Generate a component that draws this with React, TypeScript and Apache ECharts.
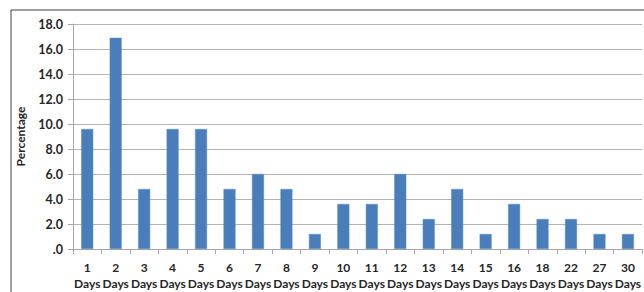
import React, { useEffect, useRef } from "react";
import * as echarts from "echarts";

const categories = ["1", "2", "3", "4", "5", "6", "7", "8", "9", "10", "11", "12", "13", "14", "15", "16", "18", "22", "27", "30"];
const values = [9.6, 16.9, 4.8, 9.6, 9.6, 4.8, 6.0, 4.8, 1.2, 3.6, 3.6, 6.0, 2.4, 4.8, 1.2, 3.6, 2.4, 2.4, 1.2, 1.2];
const yTicks = { min: 0, max: 18, interval: 2 };
const unitLabel = "Days";
const yName = "Percentage";

export default function App() {
  const ref = useRef<HTMLDivElement>(null);
  useEffect(() => {
    if (!ref.current) return;
    const chart = echarts.init(ref.current, undefined, { renderer: "svg" });
    const font = "Lato, 'Open Sans', sans-serif";
    chart.setOption({
      animation: false,
      backgroundColor: "#ffffff",
      grid: { left: 73, top: 24, width: 574, height: 225, containLabel: false },
      graphic: [
        {
          type: "rect",
          shape: { x: 11, y: 10, width: 700, height: 320 },
          style: { fill: "none", stroke: "#404040", lineWidth: 1 },
          silent: true,
        },
      ],
      xAxis: {
        type: "category",
        data: categories,
        axisLine: { show: true, lineStyle: { color: "#a6a6a6", width: 1 } },
        axisTick: { show: true, length: 5, lineStyle: { color: "#a6a6a6" } },
        axisLabel: {
          margin: 10,
          color: "#262626",
          fontFamily: font,
          fontWeight: "bold",
          fontSize: 12,
          lineHeight: 16,
          interval: 0,
          formatter: (v: string) => `${v}\n${unitLabel}`,
        },
      },
      yAxis: {
        type: "value",
        min: yTicks.min,
        max: yTicks.max,
        interval: yTicks.interval,
        name: yName,
        nameLocation: "middle",
        nameGap: 47,
        nameTextStyle: { color: "#262626", fontFamily: font, fontWeight: "bold", fontSize: 12 },
        axisLine: { show: true, lineStyle: { color: "#a6a6a6", width: 1 } },
        axisTick: { show: true, length: 5, lineStyle: { color: "#a6a6a6" } },
        axisLabel: {
          margin: 10,
          color: "#262626",
          fontFamily: font,
          fontWeight: "bold",
          fontSize: 12.5,
          formatter: (v: number) => (v === 0 ? ".0" : v.toFixed(1)),
        },
        splitLine: { show: true, lineStyle: { color: "#b4b4b4", width: 1 } },
      },
      series: [
        {
          type: "bar",
          data: values,
          barWidth: 12,
          itemStyle: { color: "#4a7ebb", borderColor: "#5a8cc6", borderWidth: 0.5 },
        },
      ],
    });
    return () => chart.dispose();
  }, []);
  return (
    <div
      ref={ref}
      style={{ position: "fixed", left: 0, top: 0, width: 644, height: 292, overflow: "hidden", background: "#fff" }}
    />
  );
}
